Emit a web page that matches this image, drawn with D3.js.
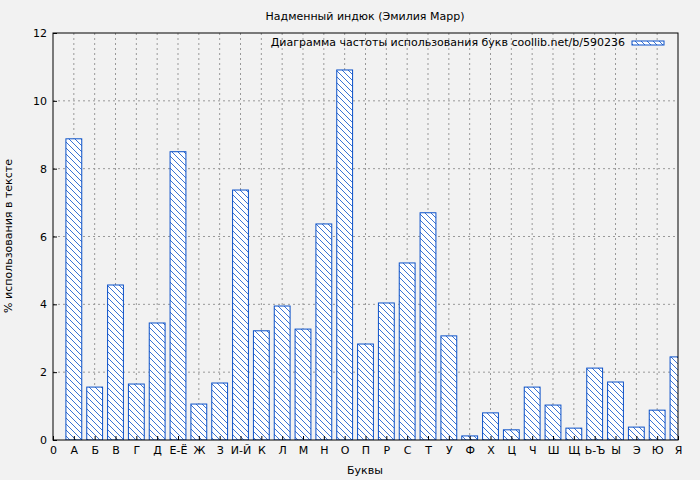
<!DOCTYPE html>
<html><head><meta charset="utf-8">
<script src="https://cdn.jsdelivr.net/npm/d3@7"></script>
<style>body{margin:0;background:#f2f2f2;font-family:"DejaVu Sans",sans-serif;}</style>
</head><body>
<svg id="chart" width="700" height="480"></svg>
<script>
// letters and their share in the text, %
const letters = ['А','Б','В','Г','Д','Е-Ё','Ж','З','И-Й','К','Л','М','Н','О','П','Р','С','Т','У','Ф','Х','Ц','Ч','Ш','Щ','Ь-Ъ','Ы','Э','Ю','Я'];
const values = [8.88,1.56,4.57,1.65,3.45,8.5,1.06,1.68,7.37,3.22,3.95,3.27,6.37,10.91,2.83,4.04,5.22,6.7,3.07,0.12,0.8,0.3,1.56,1.03,0.35,2.12,1.71,0.38,0.88,2.45];
const yTicks = [0,2,4,6,8,10,12];

const svg = d3.select('#chart');
const m = {left:53, right:22, top:33, bottom:40};
const w = 700 - m.left - m.right, h = 480 - m.top - m.bottom;
const blue = '#0a50c8';

svg.append('rect').attr('width',700).attr('height',480).attr('fill','#f2f2f2');

const defs = svg.append('defs');
const pat = defs.append('pattern').attr('id','hatch').attr('patternUnits','userSpaceOnUse')
  .attr('width',6).attr('height',6);
pat.append('rect').attr('width',6).attr('height',6).attr('fill','#fff');
pat.append('path').attr('d','M-1,-1 L7,7 M-4,2 L4,10 M2,-4 L10,4').attr('stroke',blue).attr('stroke-width',0.8);
defs.append('clipPath').attr('id','clip').append('rect').attr('width',w).attr('height',h);

const g = svg.append('g').attr('transform',`translate(${m.left},${m.top})`);
const x = d3.scaleLinear().domain([0,30]).range([0,w]);
const y = d3.scaleLinear().domain([0,12]).range([h,0]);

// grid
g.selectAll('.vg').data(d3.range(1,30)).join('line')
  .attr('x1',d=>x(d)).attr('x2',d=>x(d)).attr('y1',0).attr('y2',h)
  .attr('stroke','#999').attr('stroke-dasharray','2,3');
g.selectAll('.hg').data(yTicks.slice(1,-1)).join('line')
  .attr('x1',0).attr('x2',w).attr('y1',d=>y(d)).attr('y2',d=>y(d))
  .attr('stroke','#999').attr('stroke-dasharray','2,3');

const bw = x(1) - x(0) - 5;
g.append('g').attr('clip-path','url(#clip)').selectAll('rect').data(values).join('rect')
  .attr('x',(d,i)=>x(i+1)-bw/2).attr('width',bw)
  .attr('y',d=>y(d)).attr('height',d=>h-y(d))
  .attr('fill','url(#hatch)').attr('stroke',blue).attr('stroke-width',1);

g.append('rect').attr('width',w).attr('height',h).attr('fill','none').attr('stroke','#000');

const xa = g.append('g').attr('transform',`translate(0,${h})`)
  .call(d3.axisBottom(x).tickValues(d3.range(0,31)).tickSize(-4).tickPadding(6)
    .tickFormat(d=>d===0?'0':letters[d-1]));
const ya = g.append('g')
  .call(d3.axisLeft(y).tickValues(yTicks).tickSize(-4).tickPadding(6).tickFormat(d3.format('d')));
[xa,ya].forEach(a=>{a.select('.domain').remove();a.selectAll('text').attr('font-size',11).attr('font-family','DejaVu Sans').attr('fill','#000');});

svg.append('text').attr('x',365).attr('y',20).attr('text-anchor','middle').attr('font-size',11).text('Надменный индюк (Эмилия Марр)');
svg.append('text').attr('x',365).attr('y',474).attr('text-anchor','middle').attr('font-size',11).text('Буквы');
svg.append('text').attr('transform','translate(12,236) rotate(-90)').attr('text-anchor','middle').attr('font-size',11).text('% использования в тексте');

// legend
svg.append('text').attr('x',625).attr('y',46).attr('text-anchor','end').attr('font-size',11).text('Диаграмма частоты использования букв coollib.net/b/590236');
svg.append('rect').attr('x',632).attr('y',41).attr('width',32).attr('height',4).attr('fill','url(#hatch)').attr('stroke',blue);
</script>
</body></html>
